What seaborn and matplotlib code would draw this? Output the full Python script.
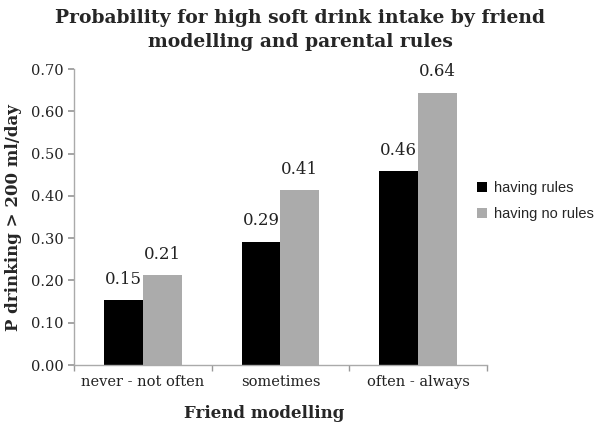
import matplotlib
matplotlib.use("Agg")
import matplotlib.pyplot as plt
import seaborn as sns
import pandas as pd

categories = ["never - not often", "sometimes", "often - always"]
series = ["having rules", "having no rules"]
rules_vals = [0.153, 0.292, 0.458]
norules_vals = [0.212, 0.414, 0.644]
colors = ["#000000", "#ababab"]

df = pd.DataFrame({
    "cat": categories * 2,
    "grp": [series[0]] * 3 + [series[1]] * 3,
    "val": rules_vals + norules_vals,
})

sns.set_theme(style="white")
plt.rcParams["font.family"] = ["DejaVu Serif"]

fig = plt.figure(figsize=(6, 4.32), dpi=100)
ax = fig.add_axes([0.1233, 0.155, 0.688, 0.685])
sns.barplot(data=df, x="cat", y="val", hue="grp", palette=colors,
            width=0.565, ax=ax, saturation=1, legend=True, linewidth=0)

for cont in ax.containers:
    ax.bar_label(cont, labels=[f"{v:.2f}" for v in cont.datavalues],
                 padding=9, fontsize=12, family="DejaVu Serif", color="#222222")

ax.set_ylim(0, 0.70)
ax.set_yticks([i / 10 for i in range(8)])
ax.set_yticklabels([f"{i/10:.2f}" for i in range(8)], fontsize=10.5, color="#222222")
ax.set_xlim(-0.5, 2.5)
ax.set_xticks([-0.5, 0.5, 1.5, 2.5], minor=True)
ax.tick_params(axis="x", which="major", labelsize=10.5, colors="#222222", length=0, pad=7)
ax.tick_params(axis="x", which="minor", length=4, color="#999999", direction="out", bottom=True)
ax.tick_params(axis="y", length=4, color="#999999", direction="out", left=True)
for s in ["top", "right"]:
    ax.spines[s].set_visible(False)
for s in ["left", "bottom"]:
    ax.spines[s].set_color("#aaaaaa")
    ax.spines[s].set_linewidth(1)

ax.set_xlabel("Friend modelling", fontsize=12, fontweight="bold", labelpad=10)
ax.xaxis.set_label_coords(0.46, -0.135)
ax.set_ylabel("P drinking > 200 ml/day", fontsize=12, fontweight="bold", labelpad=6)

fig.suptitle("Probability for high soft drink intake by friend\nmodelling and parental rules",
             fontsize=13.5, fontweight="bold", y=0.98, linespacing=1.45)

handles, labels = ax.get_legend_handles_labels()
ax.get_legend().remove()
fig.legend(handles, labels, loc="center left", bbox_to_anchor=(0.795, 0.535), frameon=False,
           prop={"family": "Liberation Sans", "size": 10.5},
           handlelength=0.7, handleheight=0.7, handletextpad=0.5, labelspacing=0.8,
           borderpad=0, borderaxespad=0)

fig.savefig("out.png", dpi=100)
